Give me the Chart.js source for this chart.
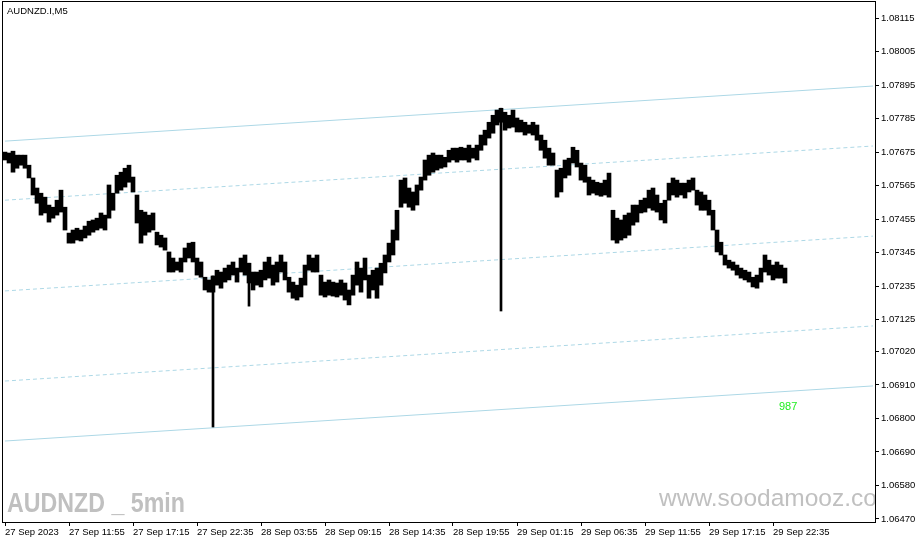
<!DOCTYPE html>
<html>
<head>
<meta charset="utf-8">
<script src="https://cdn.jsdelivr.net/npm/chart.js@4.4.0/dist/chart.umd.min.js"></script>
<style>
  html, body { margin: 0; padding: 0; background: #fff; }
  canvas { display: block; }
</style>
</head>
<body>
<canvas id="myChart" width="921" height="544"></canvas>
<script>
const highs = [
  1.07675,1.07672,1.07678,1.07665,1.07665,1.07665,1.07632,1.07590,1.07557,1.07540,
  1.07527,1.07501,1.07494,1.07517,1.07550,1.07494,1.07409,1.07419,1.07425,1.07419,
  1.07432,1.07448,1.07452,1.07458,1.07475,1.07468,1.07567,1.07540,1.07599,1.07609,
  1.07622,1.07632,1.07593,1.07534,1.07484,1.07478,1.07468,1.07475,1.07412,1.07402,
  1.07393,1.07347,1.07327,1.07314,1.07327,1.07360,1.07376,1.07379,1.07327,1.07314,
  1.07264,1.07255,1.07268,1.07287,1.07281,1.07294,1.07304,1.07314,1.07294,1.07327,
  1.07337,1.07310,1.07281,1.07281,1.07287,1.07314,1.07330,1.07304,1.07314,1.07337,
  1.07314,1.07264,1.07248,1.07238,1.07261,1.07304,1.07337,1.07327,1.07337,1.07271,
  1.07248,1.07255,1.07248,1.07245,1.07255,1.07245,1.07222,1.07271,1.07314,1.07294,
  1.07327,1.07271,1.07287,1.07294,1.07310,1.07337,1.07376,1.07419,1.07484,1.07583,
  1.07590,1.07557,1.07544,1.07567,1.07593,1.07649,1.07665,1.07672,1.07665,1.07665,
  1.07658,1.07681,1.07688,1.07688,1.07691,1.07688,1.07698,1.07688,1.07698,1.07731,
  1.07747,1.07773,1.07796,1.07813,1.07819,1.07806,1.07796,1.07813,1.07787,1.07780,
  1.07773,1.07764,1.07773,1.07764,1.07731,1.07714,1.07688,1.07672,1.07616,1.07622,
  1.07649,1.07655,1.07691,1.07681,1.07639,1.07632,1.07593,1.07583,1.07576,1.07573,
  1.07583,1.07606,1.07484,1.07458,1.07452,1.07468,1.07475,1.07501,1.07501,1.07517,
  1.07524,1.07550,1.07557,1.07534,1.07507,1.07517,1.07573,1.07590,1.07583,1.07573,
  1.07573,1.07583,1.07590,1.07550,1.07544,1.07534,1.07517,1.07484,1.07419,1.07379,
  1.07337,1.07320,1.07314,1.07304,1.07294,1.07287,1.07281,1.07264,1.07271,1.07294,
  1.07337,1.07320,1.07304,1.07314,1.07304,1.07294
];
const lows = [
  1.07649,1.07639,1.07609,1.07622,1.07632,1.07622,1.07590,1.07534,1.07507,1.07468,
  1.07475,1.07445,1.07458,1.07468,1.07478,1.07419,1.07376,1.07376,1.07386,1.07383,
  1.07393,1.07402,1.07412,1.07419,1.07425,1.07419,1.07458,1.07484,1.07540,1.07550,
  1.07560,1.07576,1.07544,1.07442,1.07376,1.07402,1.07412,1.07419,1.07370,1.07363,
  1.07353,1.07281,1.07281,1.07287,1.07281,1.07314,1.07327,1.07314,1.07271,1.07264,
  1.07222,1.07215,1.07215,1.07238,1.07228,1.07248,1.07255,1.07271,1.07248,1.07281,
  1.07271,1.07245,1.07222,1.07238,1.07232,1.07255,1.07261,1.07238,1.07248,1.07281,
  1.07255,1.07215,1.07195,1.07189,1.07199,1.07238,1.07287,1.07281,1.07281,1.07205,
  1.07199,1.07205,1.07202,1.07199,1.07205,1.07189,1.07173,1.07205,1.07238,1.07215,
  1.07255,1.07195,1.07222,1.07195,1.07238,1.07278,1.07314,1.07337,1.07386,1.07494,
  1.07507,1.07494,1.07484,1.07501,1.07550,1.07583,1.07599,1.07609,1.07616,1.07622,
  1.07626,1.07642,1.07649,1.07642,1.07649,1.07649,1.07642,1.07655,1.07649,1.07681,
  1.07698,1.07721,1.07737,1.07764,1.07773,1.07747,1.07754,1.07757,1.07741,1.07741,
  1.07731,1.07737,1.07731,1.07714,1.07681,1.07655,1.07632,1.07632,1.07527,1.07544,
  1.07590,1.07599,1.07639,1.07626,1.07583,1.07576,1.07534,1.07540,1.07534,1.07530,
  1.07534,1.07527,1.07386,1.07376,1.07386,1.07393,1.07402,1.07435,1.07445,1.07475,
  1.07478,1.07491,1.07484,1.07478,1.07452,1.07442,1.07517,1.07534,1.07527,1.07534,
  1.07524,1.07544,1.07550,1.07501,1.07484,1.07484,1.07468,1.07419,1.07347,1.07337,
  1.07304,1.07294,1.07287,1.07271,1.07261,1.07255,1.07248,1.07232,1.07228,1.07248,
  1.07281,1.07271,1.07255,1.07261,1.07261,1.07245
];

// single long wicks
const spikeAt = [52, 61, 124];
const spikeLow = [1.06772, 1.07169, 1.07153];

// channel lines: value at left edge and at right edge
const channelFrom = [1.07711, 1.07517, 1.07219, 1.06923, 1.06726];
const channelTo   = [1.07892, 1.07695, 1.07399, 1.07104, 1.06907];

const tickLabels = ['27 Sep 2023', '27 Sep 11:55', '27 Sep 17:15', '27 Sep 22:35', '28 Sep 03:55',
  '28 Sep 09:15', '28 Sep 14:35', '28 Sep 19:55', '29 Sep 01:15', '29 Sep 06:35',
  '29 Sep 11:55', '29 Sep 17:15', '29 Sep 22:35'];
const priceTicks = [1.08115, 1.08005, 1.07895, 1.07785, 1.07675, 1.07565, 1.07455, 1.07345,
  1.07235, 1.07125, 1.07020, 1.06910, 1.06800, 1.06690, 1.06580, 1.06470];

const nCols = 218;
const columns = Array.from({length: nCols}, (_, i) => i);

const rangeData = columns.map(i => i < highs.length ? [lows[i], highs[i]] : null);
const spikeData = columns.map(i => {
  const k = spikeAt.indexOf(i);
  return k >= 0 ? [spikeLow[k], highs[i]] : null;
});

const channelSets = channelFrom.map((v, k) => ({
  type: 'line',
  data: columns.map(i => i === 0 ? v : (i === nCols - 1 ? channelTo[k] : null)),
  spanGaps: true,
  borderColor: '#add8e6',
  borderWidth: 1,
  borderDash: (k === 0 || k === 4) ? [] : [4, 3],
  pointRadius: 0,
  order: 2
}));

Chart.defaults.font.family = "'Liberation Sans', Arial, sans-serif";
Chart.defaults.color = '#000';

const texts = {
  id: 'texts',
  afterDraw(chart) {
    const c = chart.ctx;
    const a = chart.chartArea;
    c.save();
    // frame
    c.strokeStyle = '#000';
    c.lineWidth = 1;
    c.strokeRect(a.left - 0.5, a.top - 0.5, a.right - a.left + 1, a.bottom - a.top + 1);

    c.beginPath();
    c.rect(a.left, a.top, a.right - a.left, a.bottom - a.top);
    c.clip();

    c.textBaseline = 'middle';
    c.textAlign = 'left';
    c.fillStyle = '#000';
    c.font = "9.5px 'Liberation Sans'";
    c.fillText('AUDNZD.I,M5', 7, 11);

    c.fillStyle = '#22ee22';
    c.font = "11px 'Liberation Sans'";
    c.fillText('987', 779, 407);

    c.fillStyle = '#c0c0c0';
    c.font = "24.5px 'Liberation Sans'";
    c.textBaseline = 'alphabetic';
    c.fillText('www.soodamooz.com', 659, 506);

    c.font = "bold 27px 'Liberation Sans'";
    const w = c.measureText('AUDNZD _ 5min').width;
    c.translate(7, 512);
    c.scale(178 / w, 1);
    c.fillText('AUDNZD _ 5min', 0, 0);
    c.restore();
  }
};

new Chart(document.getElementById('myChart'), {
  type: 'bar',
  data: {
    labels: columns,
    datasets: [
      {
        data: rangeData,
        backgroundColor: '#000',
        borderWidth: 0,
        barPercentage: 1,
        categoryPercentage: 1,
        grouped: false,
        order: 0
      },
      {
        data: spikeData,
        backgroundColor: '#000',
        borderWidth: 0,
        barThickness: 2,
        grouped: false,
        order: 1
      },
      ...channelSets
    ]
  },
  options: {
    responsive: false,
    animation: false,
    devicePixelRatio: 1,
    layout: { padding: { left: 3, top: 2, right: 0, bottom: 0 } },
    plugins: { legend: { display: false }, tooltip: { enabled: false } },
    scales: {
      x: {
        grid: { display: true, drawOnChartArea: false, drawTicks: true, tickLength: 4, color: '#000', offset: false },
        border: { display: true, color: '#000' },
        ticks: {
          autoSkip: false,
          maxRotation: 0,
          align: 'start',
          padding: 1,
          font: { size: 9.5 },
          callback: (value) => tickLabels[value / 16]
        },
        afterBuildTicks: (s) => { s.ticks = s.ticks.filter(t => t.value % 16 === 0); },
        afterFit: (s) => { s.height = 22; s.paddingLeft = 0; s.paddingRight = 0; }
      },
      y: {
        position: 'right',
        min: 1.06460,
        max: 1.08168,
        grid: { display: true, drawOnChartArea: false, drawTicks: true, tickLength: 4, color: '#000' },
        border: { display: true, color: '#000' },
        ticks: {
          padding: 2,
          font: { size: 9.5 },
          callback: (v) => Number(v).toFixed(5)
        },
        afterBuildTicks: (s) => { s.ticks = priceTicks.map(v => ({ value: v })); },
        afterFit: (s) => { s.width = 46; s.paddingTop = 0; s.paddingBottom = 0; }
      }
    }
  },
  plugins: [texts]
});
</script>
</body>
</html>
